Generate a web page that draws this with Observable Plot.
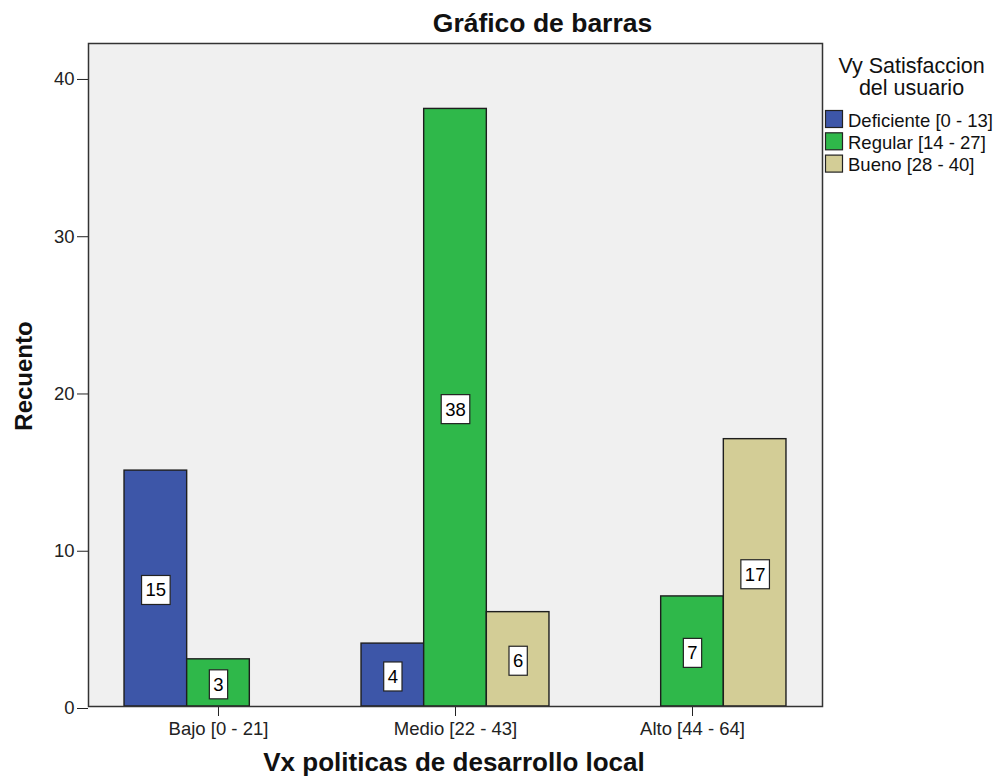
<!DOCTYPE html>
<html><head><meta charset="utf-8">
<script src="https://cdn.jsdelivr.net/npm/d3@7"></script>
<script src="https://cdn.jsdelivr.net/npm/@observablehq/plot@0.6"></script>
<style>body{margin:0;background:#fff}#chart{position:relative;width:1003px;height:778px}</style>
</head><body><div id="chart"></div>
<script>
// ---- data ----
const categories = ["Bajo [0 - 21]", "Medio [22 - 43]", "Alto [44 - 64]"];
const series = ["Deficiente [0 - 13]", "Regular [14 - 27]", "Bueno [28 - 40]"];
const deficiente = [15, 4, 0];
const regular = [3, 38, 7];
const bueno = [0, 6, 17];
const yTicks = [0, 10, 20, 30, 40];
const colors = ["#3d56a8", "#2fb84a", "#d3cd96"];
const titleText = "Gráfico de barras";
const xTitle = "Vx politicas de desarrollo local";
const yTitle = "Recuento";
const legendTitle = ["Vy Satisfaccion", "del usuario"];

// ---- layout ----
const W = 1003, H = 778, ML = 88, MR = 181, MT = 43, MB = 72;
const padIn = 0.207, padOut = 0.152;
const step = (W - ML - MR) / (categories.length - padIn + 2 * padOut);
const barW = step * (1 - padIn) / series.length;
const FONT = "'Liberation Sans', Arial, sans-serif";

const values = [deficiente, regular, bueno];
const rows = [];
categories.forEach((c, ci) => series.forEach((s, si) => rows.push({cat: c, series: s, si, value: values[si][ci]})));
const shown = rows.filter(d => d.value > 0);
const n = series.length;

const svg = Plot.plot({
  width: W, height: H,
  marginLeft: ML, marginRight: MR, marginTop: MT, marginBottom: MB,
  style: {fontFamily: FONT, fontSize: "18.5px", background: "#fff", color: "#222"},
  x: {type: "band", domain: categories, paddingInner: padIn, paddingOuter: padOut, round: false, label: null},
  y: {domain: [0, 42.16], label: null},
  color: {domain: series, range: colors},
  marks: [
    Plot.frame({fill: "#f0f0f0", stroke: null}),
    ...series.map((s, i) => Plot.barY(shown.filter(d => d.si === i), {
      x: "cat", y: "value", fill: "series", stroke: "#1e1e1e", strokeWidth: 1.4,
      insetLeft: i * barW, insetRight: (n - 1 - i) * barW
    })),
    ...series.map((s, i) => Plot.text(shown.filter(d => d.si === i), {
      x: "cat", y: d => d.value / 2, text: d => String(d.value),
      dx: (i - (n - 1) / 2) * barW, dy: 2, fontSize: 18.5, fill: "#000",
      ariaDescription: "barlabels"
    })),
    Plot.axisY(yTicks, {tickSize: 11, tickPadding: 3, fontSize: 18.5, color: "#222", label: null, dy: 2}),
    Plot.axisX({tickSize: 10, tickPadding: 5, fontSize: 18.5, color: "#222", label: null}),
    Plot.frame({stroke: "#333", strokeWidth: 1.5})
  ]
});
document.getElementById("chart").appendChild(svg);

const NS = "http://www.w3.org/2000/svg";
// boxes behind value labels
d3.select(svg).selectAll('g[aria-description="barlabels"] text').each(function () {
  const b = this.getBBox();
  const r = document.createElementNS(NS, "rect");
  r.setAttribute("x", b.x - 4); r.setAttribute("y", b.y - 4);
  r.setAttribute("width", b.width + 8); r.setAttribute("height", b.height + 8);
  r.setAttribute("fill", "#fff"); r.setAttribute("stroke", "#222"); r.setAttribute("stroke-width", 1.2);
  const t = this.getAttribute("transform"); if (t) r.setAttribute("transform", t);
  this.parentNode.insertBefore(r, this);
});

const s = d3.select(svg).append("g").attr("font-family", FONT).attr("fill", "#111").attr("text-anchor", "start");
s.append("text").attr("x", 542.5).attr("y", 32).attr("text-anchor", "middle")
  .attr("font-weight", "bold").attr("font-size", 26.5).text(titleText);
s.append("text").attr("x", 454).attr("y", 771).attr("text-anchor", "middle")
  .attr("font-weight", "bold").attr("font-size", 26).text(xTitle);
s.append("text").attr("transform", "translate(32,376) rotate(-90)").attr("text-anchor", "middle")
  .attr("font-weight", "bold").attr("font-size", 24).text(yTitle);
legendTitle.forEach((t, i) => s.append("text").attr("x", 911.5).attr("y", 73 + i * 22)
  .attr("text-anchor", "middle").attr("font-size", 21.5).text(t));
series.forEach((t, i) => {
  s.append("rect").attr("x", 825.5).attr("y", 110.5 + i * 22.3).attr("width", 17).attr("height", 17)
    .attr("fill", colors[i]).attr("stroke", "#222").attr("stroke-width", 1.2);
  s.append("text").attr("x", 848).attr("y", 127.3 + i * 21.7).attr("text-anchor", "start")
    .attr("font-size", 18.5).text(t);
});
</script></body></html>
